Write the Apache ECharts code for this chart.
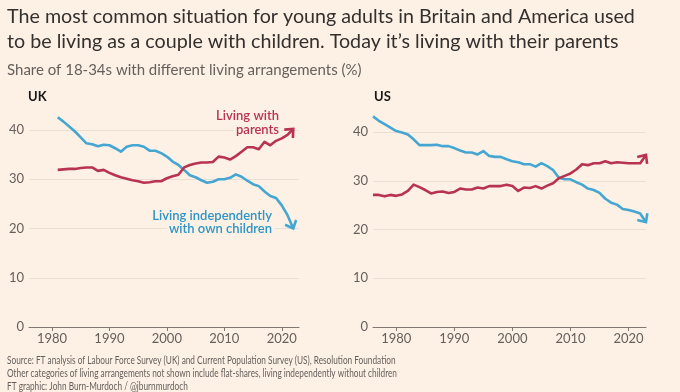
<!DOCTYPE html>
<html><head><meta charset="utf-8">
<script src="https://cdn.jsdelivr.net/npm/echarts@6/dist/echarts.min.js"></script>
<style>html,body{margin:0;padding:0;background:#fdf1e6;}#c{width:680px;height:392px;}</style>
</head><body><div id="c"></div>
<script>
const ukYears = [1981,1982,1983,1984,1985,1986,1987,1988,1989,1990,1991,1992,1993,1994,1995,1996,1997,1998,1999,2000,2001,2002,2003,2004,2005,2006,2007,2008,2009,2010,2011,2012,2013,2014,2015,2016,2017,2018,2019,2020,2021,2022];
const ukIndependent = [42.6,41.7,40.7,39.7,38.5,37.3,37.1,36.7,37.0,36.9,36.3,35.6,36.6,36.9,36.9,36.6,35.8,35.8,35.3,34.6,33.6,32.9,31.9,30.8,30.4,29.8,29.3,29.5,30.0,30.0,30.3,31.0,30.5,29.7,29.0,28.6,27.5,26.6,26.2,24.7,22.7,20.0];
const ukParents = [31.9,32.0,32.1,32.1,32.3,32.4,32.4,31.7,31.9,31.3,30.8,30.4,30.1,29.8,29.6,29.3,29.4,29.6,29.6,30.2,30.6,30.9,32.4,32.9,33.2,33.4,33.4,33.5,34.6,34.4,34.0,34.7,35.6,36.5,36.5,36.1,37.6,36.9,37.8,38.3,39.0,40.2];
const usYears = [1976,1977,1978,1979,1980,1981,1982,1983,1984,1985,1986,1987,1988,1989,1990,1991,1992,1993,1994,1995,1996,1997,1998,1999,2000,2001,2002,2003,2004,2005,2006,2007,2008,2009,2010,2011,2012,2013,2014,2015,2016,2017,2018,2019,2020,2021,2022,2023];
const usIndependent = [43.2,42.3,41.6,40.9,40.2,39.9,39.5,38.5,37.3,37.3,37.3,37.4,37.1,37.1,36.7,36.2,35.8,35.8,35.4,36.1,35.1,34.9,34.9,34.4,34.0,33.8,33.4,33.4,32.9,33.6,33.0,32.2,30.6,30.3,30.3,29.7,29.2,28.4,28.1,27.5,26.3,25.5,25.1,24.2,24.0,23.7,23.3,21.5];
const usParents = [27.1,27.1,26.8,27.1,26.9,27.2,27.9,29.2,28.7,28.1,27.4,27.7,27.8,27.5,27.7,28.4,28.2,28.2,28.6,28.4,28.9,28.9,28.9,29.2,28.9,27.9,28.6,28.5,28.9,28.4,29.0,29.5,30.5,31.0,31.5,32.3,33.4,33.2,33.6,33.6,34.0,33.6,33.8,33.7,33.6,33.6,33.6,35.3];
const yTicks = [0,10,20,30,40];
const xTicks = [1980,1990,2000,2010,2020];
const panelNames = ['UK','US'];
const titleLines = ['The most common situation for young adults in Britain and America used','to be living as a couple with children. Today it\u2019s living with their parents'];
const subtitle = 'Share of 18-34s with different living arrangements (%)';
const footLines = ['Source: FT analysis of Labour Force Survey (UK) and Current Population Survey (US), Resolution Foundation','Other categories of living arrangements not shown include flat-shares, living independently without children','FT graphic: John Burn-Murdoch / @jburnmurdoch'];
const labelParents = ['Living with','parents'];
const labelIndependent = ['Living independently','with own children'];

const RED = '#b8344e', BLUE = '#45a6d2';
const FONT = 'Lato, "Open Sans", sans-serif';

function pairs(xs, ys){ return xs.map((x,i)=>[x, ys[i]]); }
function xAxis(i){
  return {type:'value', gridIndex:i, min:1976, max:2023,
    axisLine:{show:true, onZero:false, lineStyle:{color:'#807973', width:1}},
    axisTick:{show:true, length:4, inside:false, customValues:xTicks, lineStyle:{color:'#807973'}},
    axisLabel:{customValues:xTicks, formatter:v=>String(v), color:'#66605c', fontSize:13, fontFamily:FONT, margin:5},
    splitLine:{show:false}};
}
function yAxis(i){
  return {type:'value', gridIndex:i, min:0, max:40, interval:10,
    axisLine:{show:false}, axisTick:{show:false},
    axisLabel:{color:'#66605c', fontSize:13, fontFamily:FONT, margin:5},
    splitLine:{lineStyle:{color:'#ebdfd4', width:1}}};
}
function line(xi, xs, ys, col, z){
  return {type:'line', xAxisIndex:xi, yAxisIndex:xi, data:pairs(xs, ys), showSymbol:false, symbol:'none',
    color:col, lineStyle:{width:2.6, color:col, join:'round'}, clip:false, animation:false, z:z};
}
const series = [
  line(0, ukYears, ukIndependent, BLUE, 3),
  line(0, ukYears, ukParents, RED, 4),
  line(1, usYears, usIndependent, BLUE, 3),
  line(1, usYears, usParents, RED, 4)
];
function txt(x, y, text, font, fill, align, extra){
  return {type:'text', x:x, y:y, z:10, style:Object.assign({text:text, font:font, fill:fill, align:align||'left', verticalAlign:'middle'}, extra||{})};
}
const LBL = '600 13px '+FONT;
const LBG = {backgroundColor:'#fdf1e6', padding:[0,2]};
const FOOT = '400 11px '+FONT;
const graphic = [
  txt(7, 17, titleLines[0], '400 19.7px '+FONT, '#33302e'),
  txt(7, 42, titleLines[1], '400 19.7px '+FONT, '#33302e'),
  txt(7, 70, subtitle, '400 15px '+FONT, '#66605c'),
  txt(28, 97, panelNames[0], '700 13px '+FONT, '#1a1817'),
  txt(374, 97, panelNames[1], '700 13px '+FONT, '#1a1817'),
  txt(281, 116, labelParents[0], LBL, RED, 'right', LBG),
  txt(281, 130, labelParents[1], LBL, RED, 'right', LBG),
  txt(274, 216, labelIndependent[0], LBL, '#2e95c4', 'right', LBG),
  txt(274, 229, labelIndependent[1], LBL, '#2e95c4', 'right', LBG),
  Object.assign(txt(7, 360, footLines[0], FOOT, '#66605c'), {scaleX:0.75}),
  Object.assign(txt(7, 373, footLines[1], FOOT, '#66605c'), {scaleX:0.75}),
  Object.assign(txt(7, 386, footLines[2], FOOT, '#66605c'), {scaleX:0.75})
];
const chart = echarts.init(document.getElementById('c'), null, {renderer:'canvas'});
chart.setOption({
  backgroundColor:'#fdf1e6', animation:false,
  grid:[{left:29, right:381, top:130, bottom:65}, {left:373, right:34, top:132, bottom:65}],
  xAxis:[xAxis(0), xAxis(1)], yAxis:[yAxis(0), yAxis(1)],
  series: series, graphic: graphic
});
// arrowheads at each line end, oriented along the final segment (positions via the library's conversion)
const sets = [[ukYears,ukIndependent,0,BLUE],[ukYears,ukParents,0,RED],[usYears,usIndependent,1,BLUE],[usYears,usParents,1,RED]];
const arrows = sets.map((s)=>{
  const n = s[0].length;
  const a = chart.convertToPixel({gridIndex:s[2]}, [s[0][n-2], s[1][n-2]]);
  const b = chart.convertToPixel({gridIndex:s[2]}, [s[0][n-1], s[1][n-1]]);
  const ang = Math.atan2(b[1]-a[1], b[0]-a[0]);
  const L = 9, spread = 42*Math.PI/180;
  const w1 = [b[0]-L*Math.cos(ang-spread), b[1]-L*Math.sin(ang-spread)];
  const w2 = [b[0]-L*Math.cos(ang+spread), b[1]-L*Math.sin(ang+spread)];
  return {type:'polyline', z:5, shape:{points:[w1, b, w2]}, style:{stroke:s[3], lineWidth:2.6, fill:null, lineJoin:'miter', lineCap:'butt'}};
});
chart.setOption({graphic: graphic.concat(arrows)});
</script></body></html>
